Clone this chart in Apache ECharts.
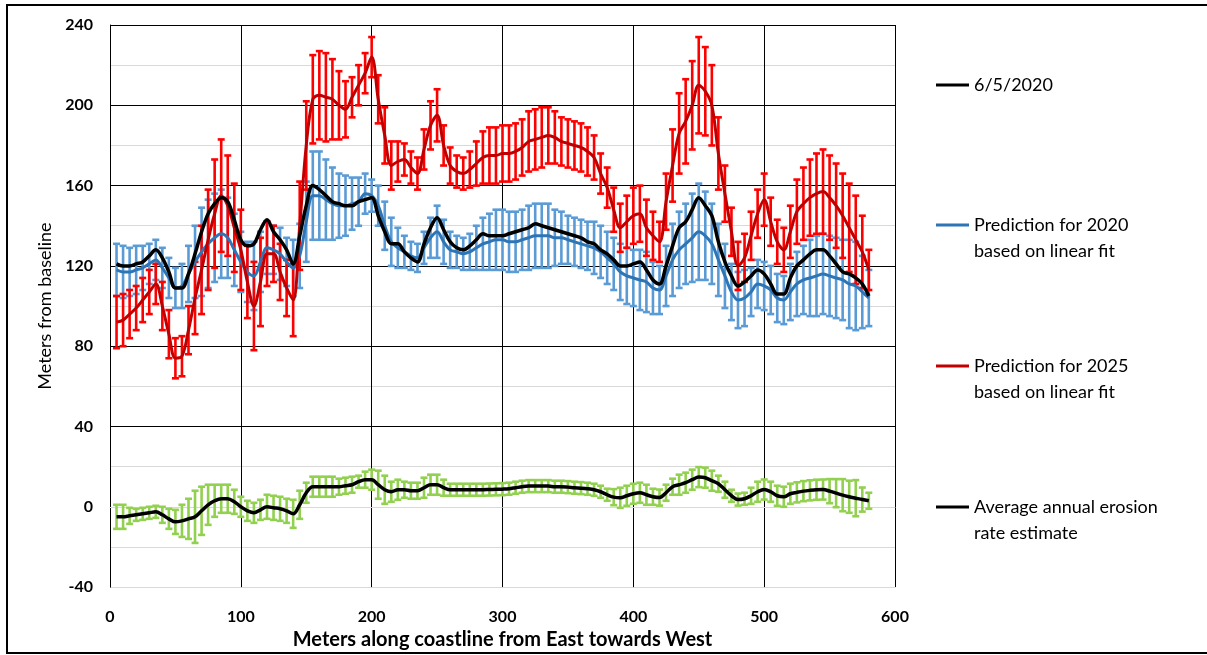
<!DOCTYPE html>
<html>
<head>
<meta charset="utf-8">
<script src="https://cdn.jsdelivr.net/npm/echarts@6/dist/echarts.min.js"></script>
<style>
  html, body { margin: 0; padding: 0; background: #fff; }
  #chart { width: 1207px; height: 655px; }
</style>
</head>
<body>
<div id="chart"></div>
<script>
// Transect positions along the coastline (m)
const distance = [
  5,10,15,20,25,30,35,40,45,50,
  55,60,65,70,75,80,85,90,95,100,
  105,110,115,120,125,130,135,140,145,150,
  155,160,165,170,175,180,185,190,195,200,
  205,210,215,220,225,230,235,240,245,250,
  255,260,265,270,275,280,285,290,295,300,
  305,310,315,320,325,330,335,340,345,350,
  355,360,365,370,375,380,385,390,395,400,
  405,410,415,420,425,430,435,440,445,450,
  455,460,465,470,475,480,485,490,495,500,
  505,510,515,520,525,530,535,540,545,550,
  555,560,565,570,575,580
];

// Shoreline surveyed on 6/5/2020 (m from baseline)
const shoreline2020 = [
  121,120,120,121,122,125,128,124,117,109,
  109,116,126,137,146,151,154,152,143,133,
  130,131,138,143,137,133,128,121,135,150,
  160,158,155,152,151,150,150,152,153,154,
  145,137,131,131,127,124,122,131,139,144,
  138,132,129,128,130,133,136,135,135,135,
  136,137,138,139,141,140,139,138,137,136,
  135,134,132,131,128,126,123,120,120,121,
  122,118,113,111,120,130,139,142,148,154,
  150,145,132,122,115,110,112,115,118,116,
  111,106,106,114,120,123,126,128,128,125,
  121,117,116,114,111,105
];

// Prediction for 2020 (linear fit) and its uncertainty
const pred2020 = [
  118,117,117,118,119,121,123,119,114,109,
  110,116,122,127,131,134,136,134,128,122,
  117,115,122,129,128,126,122,119,125,142,
  155,155,153,151,150,150,151,152,156,155,
  150,140,132,129,127,125,124,129,134,137,
  132,128,127,126,127,129,131,132,133,133,
  132,132,133,134,135,135,135,134,134,133,
  132,131,130,129,127,124,121,117,115,114,
  113,112,109,108,115,123,128,131,134,137,
  135,131,123,115,107,103,104,107,111,110,
  108,104,103,107,111,113,114,115,116,115,
  114,113,111,110,107,104
];
const pred2020Err = [
  13,13,12,12,11,10,10,10,10,10,
  11,14,18,22,22,22,22,20,18,15,
  15,17,15,13,12,13,12,14,16,20,
  22,22,20,18,16,15,13,12,10,8,
  10,12,12,10,8,7,7,8,10,13,
  11,9,8,8,9,11,13,14,15,15,
  15,15,15,16,16,16,16,14,13,12,
  12,12,12,13,13,13,13,14,14,14,
  15,15,13,12,15,18,19,20,22,24,
  22,20,18,16,14,14,14,12,12,12,
  12,12,12,14,16,17,19,20,20,20,
  20,20,22,22,18,14
];

// Prediction for 2025 (linear fit) and its uncertainty
const pred2025 = [
  92,93,96,99,103,107,111,100,86,74,
  75,88,104,118,133,146,155,150,139,128,
  112,100,112,126,126,117,109,103,140,180,
  203,205,204,203,200,198,204,210,216,224,
  203,185,170,172,173,169,166,178,190,195,
  180,170,167,166,168,171,174,175,175,176,
  176,177,179,182,183,184,185,184,182,181,
  180,179,177,174,166,159,148,139,142,145,
  146,139,135,132,152,170,186,192,200,210,
  207,200,176,156,137,120,124,135,146,153,
  142,132,128,137,147,151,154,156,157,154,
  150,145,139,133,127,118
];
const pred2025Err = [
  13,13,12,11,11,11,10,12,12,10,
  10,12,18,22,25,27,28,25,22,20,
  18,22,22,16,14,14,14,18,22,22,
  22,22,22,20,17,14,10,10,10,10,
  12,14,12,10,8,8,8,10,12,13,
  10,9,8,8,9,11,13,14,14,14,
  14,14,14,15,15,15,14,13,12,12,
  12,12,12,11,10,10,11,12,13,14,
  14,14,12,10,14,18,20,21,22,24,
  22,20,18,14,12,12,12,12,12,13,
  12,11,11,13,16,18,19,20,21,21,
  21,21,22,22,18,10
];

// Average annual erosion rate estimate and its uncertainty
const erosionRate = [
  -5,-5,-4.5,-4,-3.5,-3,-2.5,-4,-6,-7.5,
  -7,-6,-5,-2,1,3,4,4,2.5,0,
  -2,-3,-1.5,0,-0.5,-1,-2,-3.5,1,7,
  10,10,10,10,10,10.5,11,12.5,13.5,13.5,
  11,8.5,7.5,8.5,8.5,8,8,9.5,11,11,
  9.5,8.5,8.5,8.5,8.5,8.5,8.5,8.6,8.7,8.8,
  9,9.5,10,10.3,10.3,10.3,10.3,10,10,9.8,
  9.5,9.3,9,8.5,7.5,6,4.8,4.5,5.5,6.5,
  7,6,5,4.6,7,10,11,12,13.5,14.8,
  14.5,13,11.5,8.5,5.5,3.6,4,5.5,7.5,8.6,
  7.5,5.5,5,6.5,7.2,7.8,8.2,8.5,8.6,7.8,
  6.8,5.8,5,4.3,3.6,3
];
const erosionRateErr = [
  6,6,4,3,3,3,3,4,5,6,
  8,10,13,12,10,8,7,7,6,5,
  5,5,5,6,6,6,6,7,7,5,
  5,5,5,5,4,4,4,3,4,5,
  7,7,5,5,4,4,4,5,5,5,
  4,3,3,3,3,3,3,3,3,3,
  3,3,3,3,3,3,3,3,3,3,
  3,3,3,3,3,3,4,5,5,5,
  5,5,4,4,4,4,5,5,5,5,
  5,5,4,4,3,3,3,4,5,5,
  5,5,5,5,5,5,5,5,5,6,
  7,8,8,9,6,4
];

// Axis ticks
const xTicks = [0, 100, 200, 300, 400, 500, 600];
const yTicks = [-40, 0, 40, 80, 120, 160, 200, 240];

const NAME_SHORE = '6/5/2020';
const NAME_P2020 = 'Prediction for 2020 based on linear fit';
const NAME_P2025 = 'Prediction for 2025 based on linear fit';
const NAME_RATE = 'Average annual erosion rate estimate';

const FONT = 'Lato, "Open Sans", sans-serif';

function linePoints(vals) {
  return distance.map((d, i) => [d, vals[i]]);
}
function barPoints(vals, errs) {
  return distance.map((d, i) => [d, vals[i] - errs[i], vals[i] + errs[i]]);
}

// Vertical error bar with caps at both ends
function errorBar(color) {
  return function (params, api) {
    const x = api.value(0);
    const lo = api.coord([x, api.value(1)]);
    const hi = api.coord([x, api.value(2)]);
    const cap = 3.5;
    const style = { stroke: color, lineWidth: 2.6, fill: null };
    return {
      type: 'group',
      children: [
        { type: 'line', shape: { x1: lo[0], y1: lo[1], x2: hi[0], y2: hi[1] }, style: style },
        { type: 'line', shape: { x1: lo[0] - cap, y1: lo[1], x2: lo[0] + cap, y2: lo[1] }, style: style },
        { type: 'line', shape: { x1: hi[0] - cap, y1: hi[1], x2: hi[0] + cap, y2: hi[1] }, style: style }
      ]
    };
  };
}

function legendBlock(name, iconY, label) {
  const lines = label.split('\n');
  const lh = 26;
  // keep the icon level with the first text line
  const text = lines.length > 1 ? '\n' + label : label;
  const blockH = (lines.length > 1 ? 3 : 1) * lh;
  return {
    data: [name],
    left: 936,
    top: iconY - blockH / 2,
    orient: 'vertical',
    padding: 0,
    icon: 'rect',
    itemWidth: 33,
    itemHeight: 3,
    itemGap: 0,
    selectedMode: false,
    formatter: function () { return text; },
    textStyle: { fontFamily: FONT, fontSize: 18, color: '#000', lineHeight: lh }
  };
}

const splitColors = yTicks.map(v => v === -40 ? '#d9d9d9' : '#000000');

const chart = echarts.init(document.getElementById('chart'));
chart.setOption({
  animation: false,
  backgroundColor: '#ffffff',
  grid: { left: 110, right: 312, top: 25, bottom: 66, containLabel: false },
  xAxis: {
    type: 'value',
    min: xTicks[0],
    max: xTicks[xTicks.length - 1],
    interval: 100,
    name: 'Meters along coastline from East towards West',
    nameLocation: 'middle',
    nameGap: 38,
    nameTextStyle: { fontFamily: FONT, fontSize: 20, fontWeight: 'bold', color: '#000' },
    axisLine: { show: true, lineStyle: { color: '#d9d9d9', width: 1 } },
    axisTick: { show: false },
    axisLabel: { fontFamily: FONT, fontSize: 16, fontWeight: 'bold', color: '#000', margin: 22 },
    splitLine: { show: true, lineStyle: { color: '#000000', width: 1 } }
  },
  yAxis: {
    type: 'value',
    min: yTicks[0],
    max: yTicks[yTicks.length - 1],
    interval: 40,
    name: 'Meters from baseline',
    nameLocation: 'middle',
    nameGap: 52,
    nameTextStyle: { fontFamily: FONT, fontSize: 18, color: '#000' },
    axisLine: { show: true, lineStyle: { color: '#000', width: 1 } },
    axisTick: { show: false },
    axisLabel: { fontFamily: FONT, fontSize: 16, fontWeight: 'bold', color: '#000', margin: 17 },
    minorTick: { show: false, splitNumber: 2 },
    minorSplitLine: { show: true, lineStyle: { color: '#d9d9d9', width: 1 } },
    splitLine: { show: true, lineStyle: { color: splitColors, width: 1 } }
  },
  legend: [
    legendBlock(NAME_SHORE, 85, '6/5/2020'),
    legendBlock(NAME_P2020, 225, 'Prediction for 2020\nbased on linear fit'),
    legendBlock(NAME_P2025, 366, 'Prediction for 2025\nbased on linear fit'),
    legendBlock(NAME_RATE, 507, 'Average annual erosion\nrate estimate')
  ],
  graphic: [{
    type: 'rect',
    silent: true,
    shape: { x: 7, y: 5, width: 1230, height: 648 },
    style: { fill: null, stroke: '#000', lineWidth: 2 }
  }],
  series: [
    {
      type: 'custom', name: NAME_P2020 + ' error', silent: true,
      renderItem: errorBar('#5B9BD5'),
      encode: { x: 0, y: [1, 2] },
      data: barPoints(pred2020, pred2020Err)
    },
    {
      type: 'line', name: NAME_P2020, smooth: 0.35, showSymbol: false,
      itemStyle: { color: '#2E75B6' },
      lineStyle: { color: '#2E75B6', width: 3 },
      data: linePoints(pred2020)
    },
    {
      type: 'custom', name: NAME_P2025 + ' error', silent: true,
      renderItem: errorBar('#FF0000'),
      encode: { x: 0, y: [1, 2] },
      data: barPoints(pred2025, pred2025Err)
    },
    {
      type: 'line', name: NAME_P2025, smooth: 0.35, showSymbol: false,
      itemStyle: { color: '#C00000' },
      lineStyle: { color: '#C00000', width: 3 },
      data: linePoints(pred2025)
    },
    {
      type: 'custom', name: NAME_RATE + ' error', silent: true,
      renderItem: errorBar('#92D050'),
      encode: { x: 0, y: [1, 2] },
      data: barPoints(erosionRate, erosionRateErr)
    },
    {
      type: 'line', name: NAME_RATE, smooth: 0.35, showSymbol: false,
      itemStyle: { color: '#000000' },
      lineStyle: { color: '#000000', width: 3.5 },
      data: linePoints(erosionRate)
    },
    {
      type: 'line', name: NAME_SHORE, smooth: 0.35, showSymbol: false,
      itemStyle: { color: '#000000' },
      lineStyle: { color: '#000000', width: 3.5 },
      data: linePoints(shoreline2020)
    }
  ]
});
</script>
</body>
</html>
